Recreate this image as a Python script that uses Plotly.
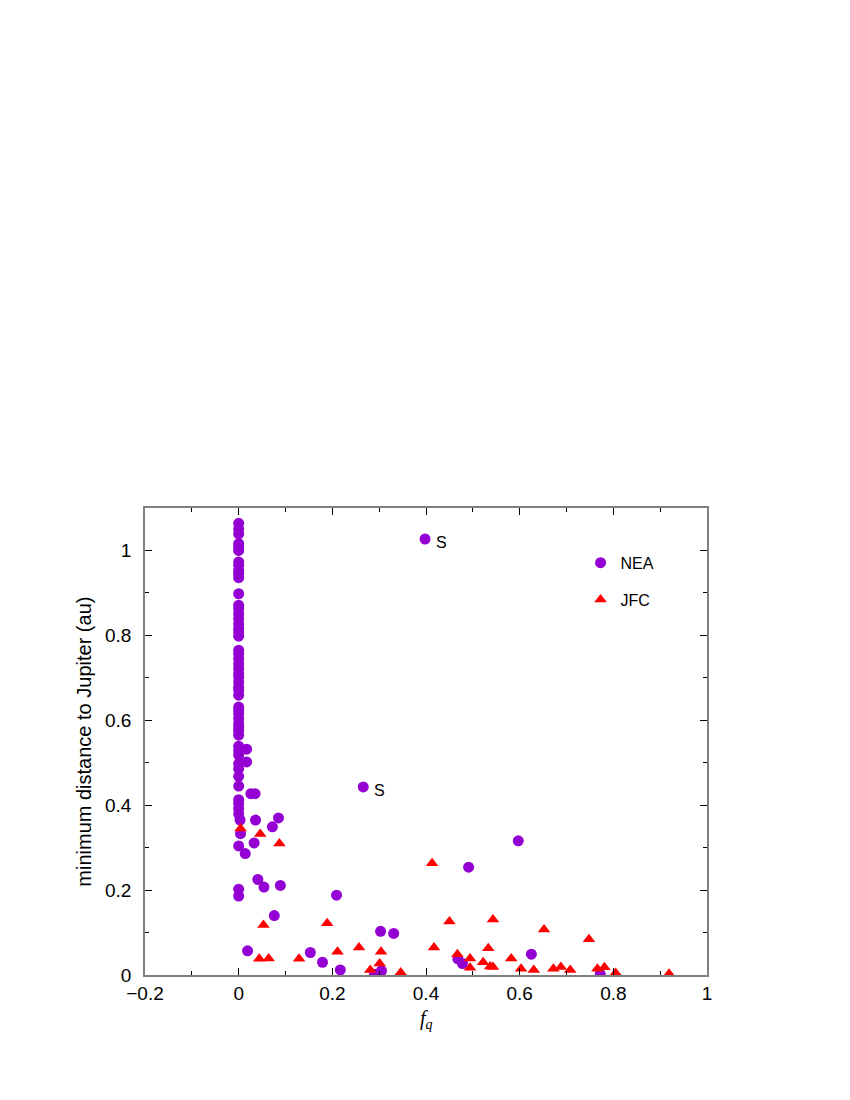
import plotly.graph_objects as go

# NEA: f_q vs minimum distance to Jupiter (au)
nea_fq = [0, 0, 0, 0, 0, 0, 0, 0, 0, 0, 0, 0, 0, 0, 0, 0, 0, 0, 0, 0,
          0, 0, 0, 0, 0, 0, 0, 0, 0, 0, 0, 0, 0, 0, 0, 0, 0, 0, 0, 0,
          0, 0, 0, 0, 0, 0, 0, 0, 0, 0, 0.003, 0.004, 0, 0, 0,
          0.017, 0.017, 0.026, 0.035, 0.036, 0.085, 0.072, 0.033, 0.014,
          0.041, 0.054, 0.089, 0.076, 0.019, 0.153, 0.179, 0.209, 0.217,
          0.266, 0.398, 0.597, 0.491, 0.303, 0.331, 0.290, 0.305,
          0.468, 0.478, 0.625, 0.772]
nea_dmin = [1.064, 1.051, 1.039, 1.016, 1.008, 1.000, 0.973, 0.965, 0.953, 0.945,
            0.936, 0.898, 0.871, 0.863, 0.851, 0.839, 0.827, 0.816, 0.808, 0.798,
            0.765, 0.757, 0.745, 0.733, 0.722, 0.710, 0.702, 0.690, 0.678, 0.671,
            0.659, 0.631, 0.624, 0.616, 0.604, 0.592, 0.584, 0.576, 0.565, 0.539,
            0.529, 0.518, 0.498, 0.486, 0.468, 0.445, 0.413, 0.404, 0.392, 0.379,
            0.365, 0.333, 0.304, 0.202, 0.186,
            0.532, 0.502, 0.427, 0.427, 0.365, 0.370, 0.349, 0.311, 0.286,
            0.225, 0.207, 0.211, 0.140, 0.057, 0.053, 0.030, 0.188, 0.012,
            0.443, 1.027, 0.316, 0.254, 0.103, 0.098, 0.002, 0.010,
            0.038, 0.027, 0.049, 0.002]

# JFC
jfc_fq = [0.004, 0.046, 0.087, 0.053, 0.044, 0.064, 0.129, 0.189, 0.211,
          0.257, 0.304, 0.301, 0.281, 0.346, 0.413, 0.450, 0.543, 0.417,
          0.467, 0.494, 0.494, 0.522, 0.533, 0.537, 0.543, 0.582, 0.603,
          0.652, 0.748, 0.630, 0.672, 0.688, 0.708, 0.766, 0.781, 0.805, 0.919]
jfc_dmin = [0.345, 0.332, 0.310, 0.118, 0.038, 0.039, 0.038, 0.122, 0.055,
            0.065, 0.055, 0.027, 0.012, 0.006, 0.263, 0.126, 0.131, 0.065,
            0.049, 0.039, 0.017, 0.030, 0.063, 0.020, 0.019, 0.039, 0.015,
            0.107, 0.084, 0.012, 0.015, 0.019, 0.012, 0.015, 0.018, 0.005, 0.003]

# objects labelled "S"
s_fq = [0.398, 0.266]
s_dmin = [1.027, 0.443]

FONT = "Liberation Sans, Arial, sans-serif"
SERIF = "Liberation Serif, Times New Roman, serif"

fig = go.Figure()
fig.add_trace(go.Scatter(
    x=nea_fq, y=nea_dmin, mode="markers", name="NEA",
    legendgroup="nea",
    marker=dict(symbol="circle", size=11, color="#9400D3"),
))
fig.add_trace(go.Scatter(
    x=jfc_fq, y=jfc_dmin, mode="markers", name="JFC",
    legendgroup="jfc",
    marker=dict(symbol="triangle-up", size=11, color="#FF0000"),
))

for xs, ys in zip(s_fq, s_dmin):
    fig.add_annotation(x=xs, y=ys, text="S", showarrow=False,
                       xanchor="left", yanchor="middle", xshift=9, yshift=-4,
                       font=dict(family=FONT, size=16, color="black"))

# axis titles as annotations so they sit where the original puts them
fig.add_annotation(xref="paper", yref="paper", x=-0.110, y=0.5,
                   text="minimum distance to Jupiter (au)", textangle=-90,
                   showarrow=False, xanchor="center", yanchor="middle",
                   font=dict(family=FONT, size=20, color="black"))
fig.add_annotation(xref="paper", yref="paper", x=0.5, y=-0.096,
                   text="<i>f</i><sub><i>q</i></sub>",
                   showarrow=False, xanchor="center", yanchor="middle",
                   font=dict(family=SERIF, size=20, color="black"))

fig.update_layout(
    width=850, height=1100,
    paper_bgcolor="white", plot_bgcolor="white",
    font=dict(family=FONT, size=19, color="black"),
    margin=dict(l=137, r=151, t=500, b=133),
    showlegend=True,
    legend=dict(x=0.775, y=0.919, xanchor="left", yanchor="top",
                traceorder="grouped", tracegroupgap=13,
                bgcolor="rgba(0,0,0,0)", font=dict(size=16)),
)

fig.update_xaxes(
    range=[-0.2, 1.0], dtick=0.2, tick0=0,
    ticks="inside", ticklen=7, tickcolor="black",
    minor=dict(ticks="inside", dtick=0.1, ticklen=4, tickcolor="black"),
    showline=True, linecolor="#808080", linewidth=1.5, mirror="allticks",
    showgrid=False, zeroline=False, ticklabelstandoff=0,
)
fig.update_yaxes(
    range=[0, 1.1], dtick=0.2, tick0=0,
    ticks="inside", ticklen=7, tickcolor="black",
    minor=dict(ticks="inside", dtick=0.1, ticklen=4, tickcolor="black"),
    showline=True, linecolor="#808080", linewidth=1.5, mirror="allticks",
    showgrid=False, zeroline=False, ticklabelstandoff=8,
)

fig.write_html("out.html")
